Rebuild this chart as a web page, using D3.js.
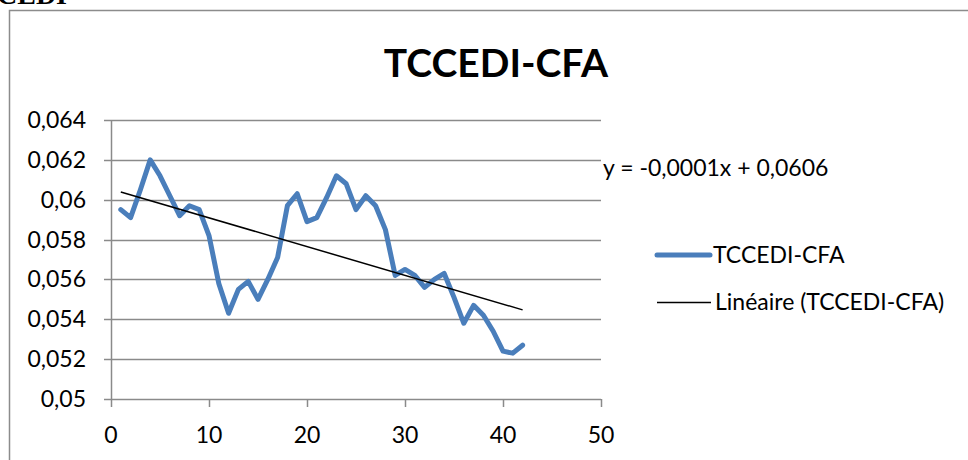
<!DOCTYPE html>
<html><head><meta charset="utf-8">
<script src="https://cdn.jsdelivr.net/npm/d3@7"></script>
<style>body{margin:0;background:#fff}svg{display:block}</style>
</head><body><svg id="c" width="968" height="460"></svg>
<script>
const title = "TCCEDI-CFA";
const seriesName = "TCCEDI-CFA";
const trendName = "Linéaire (TCCEDI-CFA)";
const equation = "y = -0,0001x + 0,0606";
const xs = d3.range(1, 43);
const values = [0.0595,0.0591,0.0605,0.0620,0.0612,0.0602,0.0592,0.0597,0.0595,0.0582,
  0.0558,0.0543,0.0555,0.0559,0.0550,0.0560,0.0571,0.0597,0.0603,0.0589,
  0.0591,0.0601,0.0612,0.0608,0.0595,0.0602,0.0597,0.0585,0.0562,0.0565,
  0.0562,0.0556,0.0560,0.0563,0.0551,0.0538,0.0547,0.0542,0.0534,0.0524,
  0.0523,0.0527];
const yTicks = [0.05,0.052,0.054,0.056,0.058,0.06,0.062,0.064];
const xTicks = [0,10,20,30,40,50];

const svg = d3.select("#c");
const font = "Lato, 'Open Sans', sans-serif";
const x = d3.scaleLinear().domain([0,50]).range([111,601]);
const y = d3.scaleLinear().domain([0.05,0.064]).range([399,120]);

// outer frame
svg.append("rect").attr("x",9.5).attr("y",10.5).attr("width",1000).attr("height",500)
  .attr("fill","none").attr("stroke","#8c8c8c").attr("stroke-width",1.5);
// cut-off text above (also cut off in the reference)
svg.append("text").attr("x",-3).attr("y",4).attr("font-family","'Liberation Serif', serif")
  .attr("font-weight","bold").attr("font-size",28).text("CEDI");

svg.append("text").attr("x",496).attr("y",77).attr("text-anchor","middle")
  .attr("font-family",font).attr("font-weight","bold").attr("font-size",39).text(title);

// grid
svg.append("g").selectAll("line").data(yTicks).join("line")
  .attr("x1",104).attr("x2",601).attr("y1",d=>Math.round(y(d))+0.5).attr("y2",d=>Math.round(y(d))+0.5)
  .attr("stroke","#8a8a8a").attr("stroke-width",1.5);
// y axis line
svg.append("line").attr("x1",111.5).attr("x2",111.5).attr("y1",120).attr("y2",400).attr("stroke","#8a8a8a").attr("stroke-width",1.5);
// x ticks
svg.append("g").selectAll("line").data(xTicks).join("line")
  .attr("x1",d=>Math.round(x(d))+0.5).attr("x2",d=>Math.round(x(d))+0.5).attr("y1",399).attr("y2",407)
  .attr("stroke","#8a8a8a").attr("stroke-width",1.5);

const fmtY = d => d3.format(".3~f")(d).replace(".",",");
svg.append("g").selectAll("text").data(yTicks).join("text")
  .attr("x",86).attr("y",d=>y(d)+8).attr("text-anchor","end")
  .attr("font-family",font).attr("font-size",23).attr("fill","#000").text(fmtY);
svg.append("g").selectAll("text").data(xTicks).join("text")
  .attr("x",d=>x(d)).attr("y",443).attr("text-anchor","middle")
  .attr("font-family",font).attr("font-size",23).attr("fill","#000").text(d=>d);

// series
const pts = xs.map((d,i)=>[d,values[i]]);
svg.append("path").datum(pts)
  .attr("d", d3.line().x(d=>x(d[0])).y(d=>y(d[1])))
  .attr("fill","none").attr("stroke","#4a7ebb").attr("stroke-width",5).attr("stroke-linejoin","round").attr("stroke-linecap","round");

// linear regression
const mx = d3.mean(xs), my = d3.mean(values);
const slope = d3.sum(xs,(d,i)=>(d-mx)*(values[i]-my))/d3.sum(xs,d=>(d-mx)*(d-mx));
const icpt = my - slope*mx;
svg.append("line").attr("x1",x(1)).attr("x2",x(42)).attr("y1",y(icpt+slope*1)).attr("y2",y(icpt+slope*42))
  .attr("stroke","#000").attr("stroke-width",1.5);

svg.append("text").attr("x",603).attr("y",176).attr("font-family",font).attr("font-size",23).text(equation);

// legend
svg.append("line").attr("x1",657).attr("x2",710).attr("y1",255).attr("y2",255)
  .attr("stroke","#4a7ebb").attr("stroke-width",5).attr("stroke-linecap","round");
svg.append("text").attr("x",713).attr("y",263).attr("font-family",font).attr("font-size",23).text(seriesName);
svg.append("line").attr("x1",657).attr("x2",711).attr("y1",302.5).attr("y2",302.5)
  .attr("stroke","#000").attr("stroke-width",1.5);
svg.append("text").attr("x",715).attr("y",310).attr("font-family",font).attr("font-size",23).text(trendName);
</script></body></html>
